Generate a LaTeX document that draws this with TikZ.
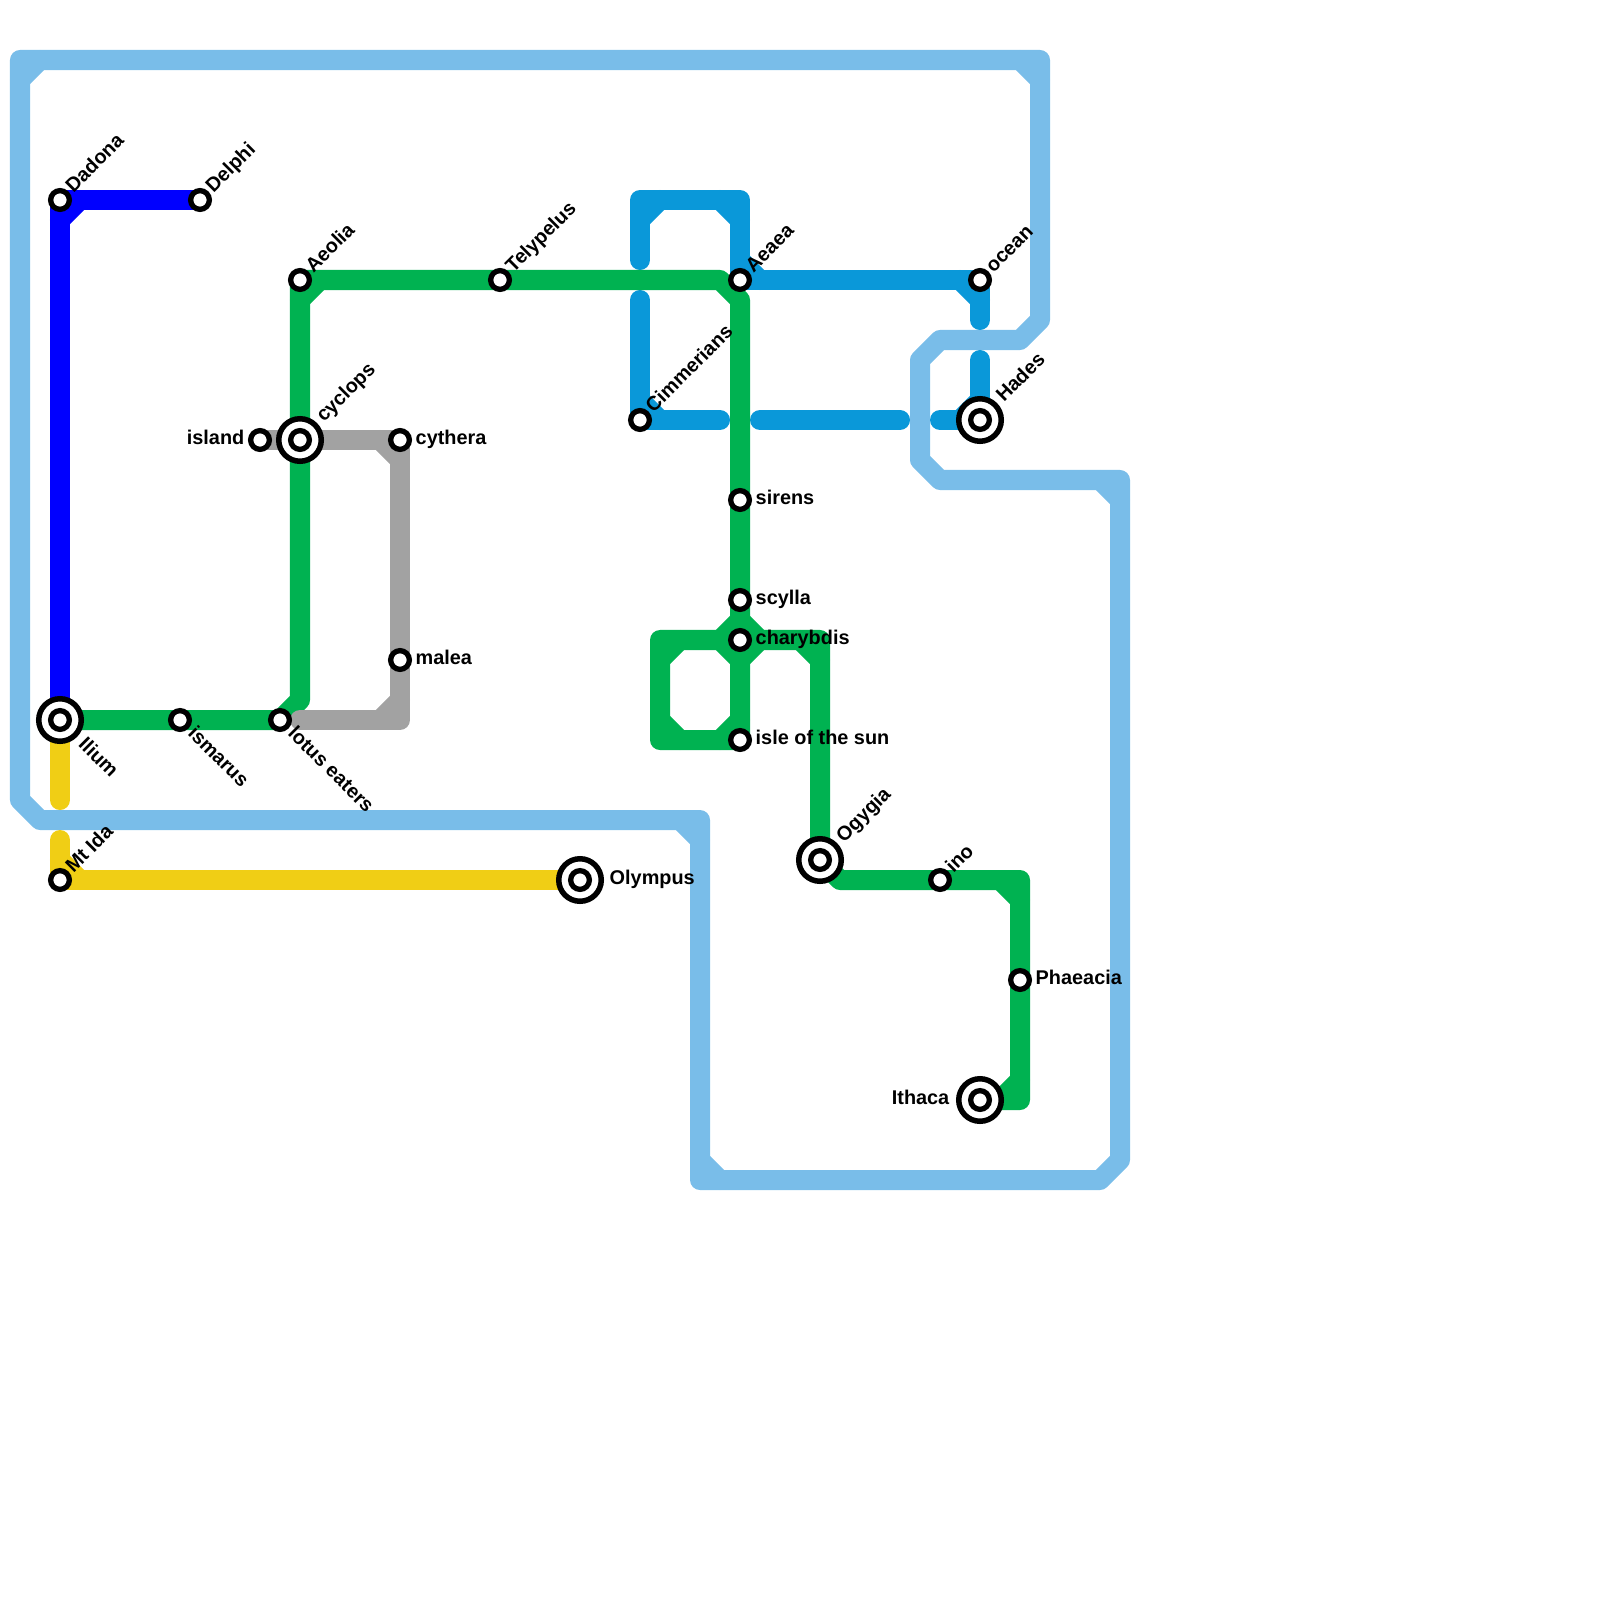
\documentclass[tikz,border=0pt]{standalone}
\usepackage{fontspec}
\setmainfont{Liberation Sans}
\usetikzlibrary{backgrounds}
\definecolor{sealine}{HTML}{79BDE9}
\definecolor{zeusline}{HTML}{0000FF}
\definecolor{voyageline}{HTML}{00B251}
\definecolor{shadeline}{HTML}{0A98D9}
\definecolor{stoneline}{HTML}{A2A2A2}
\definecolor{godline}{HTML}{F0CE15}
\tikzset{
  track/.style={line width=0.2cm, line cap=round, line join=round},
  stn/.style={circle, draw=black, fill=white, line width=0.053cm, minimum size=0.187cm, inner sep=0pt},
  hub/.style={stn, line width=0.055cm, minimum size=0.425cm},
  tag/.style={font=\bfseries\fontsize{5.65}{6}\selectfont, inner sep=0pt, text=black},
  tagr/.style={tag, anchor=base west, xshift=0.15cm, yshift=-0.045cm},
  tagl/.style={tag, anchor=base east, xshift=-0.15cm, yshift=-0.045cm},
  tagne/.style={tag, anchor=base west, xshift=0.13cm, yshift=0.06cm, rotate=45},
  tagse/.style={tag, anchor=base west, xshift=0.065cm, yshift=-0.14cm, rotate=-45},
}
\begin{document}
\begin{tikzpicture}[x=0.01cm, y=-0.01cm]
  \useasboundingbox (0,0) rectangle (1600,1600);
  % Plain stations
  \foreach \nm/\x/\y in {dadona/60/200, delphi/200/200, aeolia/300/280, telypelus/500/280,
                         aeaea/740/280, ocean/980/280, cimmerians/640/420, island/260/440,
                         cythera/400/440, sirens/740/500, scylla/740/600, charybdis/740/640,
                         malea/400/660, ismarus/180/720, lotus/280/720, isle/740/740,
                         mtida/60/880, ino/940/880, phaeacia/1020/980}{
    \node[stn] (\nm) at (\x,\y) {};
  }
  % Interchange stations
  \foreach \nm/\x/\y in {ilium/60/720, cyclops/300/440, hades/980/420,
                         olympus/580/880, ogygia/820/860, ithaca/980/1100}{
    \node[hub] (\nm) at (\x,\y) {};
    \node[stn] (\nm-in) at (\nm) {};
  }
  \begin{pgfonlayer}{background}
    % Outer sea
    \draw[track, sealine] (20,60) -- (1040,60) -- (1040,320) -- (1020,340) -- (940,340)
      -- (920,360) -- (920,460) -- (940,480) -- (1120,480) -- (1120,1160) -- (1100,1180)
      -- (700,1180) -- (700,820) -- (40,820) -- (20,800) -- cycle;
    \draw[track, sealine] (20,80) -- (40,60) (1020,60) -- (1040,80) (1100,480) -- (1120,500)
      (700,1160) -- (720,1180) (680,820) -- (700,840);
    % Top left line
    \draw[track, zeusline] (delphi.center) -- (dadona.center) -- (ilium.center);
    \draw[track, zeusline] (60,220) -- (80,200);
    % Underworld line
    \draw[track, shadeline] (640,260) -- (640,200) -- (740,200) -- (aeaea.center)
      -- (ocean.center) -- (980,320);
    \draw[track, shadeline] (640,220) -- (660,200) (720,200) -- (740,220)
      (740,260) -- (760,280) (960,280) -- (980,300);
    \draw[track, shadeline] (640,300) -- (cimmerians.center) -- (720,420);
    \draw[track, shadeline] (640,400) -- (660,420);
    \draw[track, shadeline] (760,420) -- (900,420);
    \draw[track, shadeline] (940,420) -- (hades.center) -- (980,360);
    \draw[track, shadeline] (960,420) -- (980,400);
    % Voyage line
    \draw[track, voyageline] (ilium.center) -- (ismarus.center) -- (lotus.center) -- (300,700)
      -- (cyclops.center) -- (aeolia.center) -- (telypelus.center) -- (720,280) -- (740,300)
      -- (sirens.center) -- (scylla.center) -- (charybdis.center) -- (isle.center)
      -- (660,740) -- (660,640) -- (820,640) -- (ogygia.center) -- (840,880) -- (ino.center)
      -- (1020,880) -- (phaeacia.center) -- (1020,1100) -- (ithaca.center);
    \draw[track, voyageline] (300,300) -- (320,280) (660,660) -- (680,640) (660,720) -- (680,740)
      (720,640) -- (740,660) (720,740) -- (740,720) (720,640) -- (740,620) -- (760,640) -- (740,660)
      (800,640) -- (820,660) (1000,880) -- (1020,900) (1020,1080) -- (1000,1100);
    % Grey line
    \draw[track, stoneline] (island.center) -- (cythera.center) -- (malea.center) -- (400,720) -- (300,720);
    \draw[track, stoneline] (380,440) -- (400,460) (400,700) -- (380,720);
    % Yellow line
    \draw[track, godline] (ilium.center) -- (60,800);
    \draw[track, godline] (60,840) -- (mtida.center) -- (olympus.center);
    \draw[track, godline] (60,860) -- (80,880);
  \end{pgfonlayer}
  % Labels going up
  \foreach \nm/\txt in {dadona/Dadona, delphi/Delphi, aeolia/Aeolia, telypelus/Telypelus,
                        aeaea/Aeaea, ocean/ocean, cimmerians/Cimmerians, mtida/Mt Ida, ino/ino}{
    \node[tagne] (\nm-t) at (\nm) {\txt};
  }
  \foreach \nm/\txt in {cyclops/cyclops, hades/Hades, ogygia/Ogygia}{
    \node[tag, anchor=base west, xshift=0.235cm, yshift=0.165cm, rotate=45] (\nm-t) at (\nm) {\txt};
  }
  % Labels going down
  \foreach \nm/\txt in {ismarus/ismarus, lotus/lotus eaters}{
    \node[tagse] (\nm-t) at (\nm) {\txt};
  }
  \node[tag, anchor=base west, xshift=0.17cm, yshift=-0.25cm, rotate=-45] (ilium-t) at (ilium) {Ilium};
  % Labels on the right
  \foreach \nm/\txt in {cythera/cythera, sirens/sirens, scylla/scylla, charybdis/charybdis,
                        malea/malea, isle/isle of the sun, phaeacia/Phaeacia}{
    \node[tagr] (\nm-t) at (\nm) {\txt};
  }
  \node[tag, anchor=base west, xshift=0.29cm, yshift=-0.045cm] (olympus-t) at (olympus) {Olympus};
  % Labels on the left
  \node[tagl] (island-t) at (island) {island};
  \node[tag, anchor=base east, xshift=-0.3cm, yshift=-0.045cm] (ithaca-t) at (ithaca) {Ithaca};
\end{tikzpicture}
\end{document}
